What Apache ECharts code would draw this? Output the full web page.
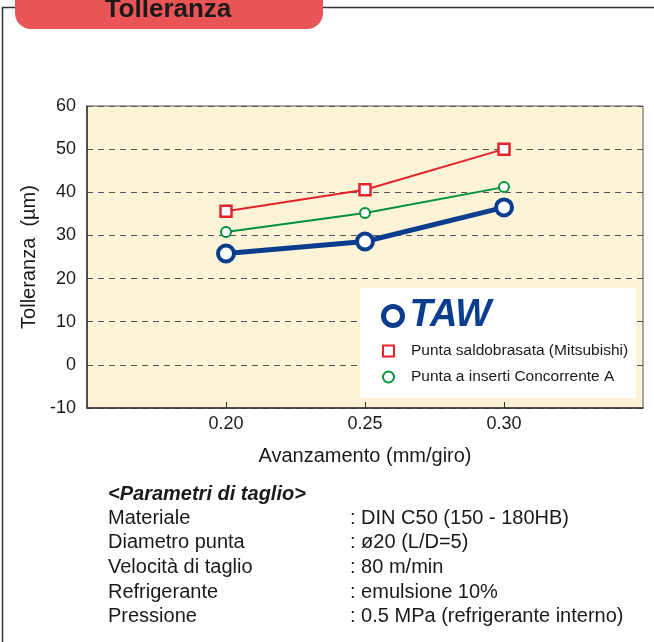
<!DOCTYPE html>
<html>
<head>
    <meta charset="utf-8">
    <title>Tolleranza</title>
    <script src="https://cdn.jsdelivr.net/npm/echarts@6/dist/echarts.min.js"></script>
    <style>
        html, body { margin: 0; padding: 0; background: #fff; }
        #main { width: 654px; height: 642px; }
    </style>
</head>
<body>
<div id="main"></div>
<script>
    // dati
    var avanzamento = [0.20, 0.25, 0.30];
    var taw = [25.8, 28.6, 36.5];
    var mitsubishi = [35.6, 40.6, 50.0];
    var concorrente = [30.8, 35.2, 41.2];
    var xTicks = [0.20, 0.25, 0.30];

    var paramLabels = ['Materiale', 'Diametro punta', 'Velocità di taglio', 'Refrigerante', 'Pressione'];
    var paramValues = [': DIN C50 (150 - 180HB)', ': ø20 (L/D=5)', ': 80 m/min', ': emulsione 10%', ': 0.5 MPa (refrigerante interno)'];

    var font = 'Liberation Sans, Arial, sans-serif';

    function pairs(xs, ys) {
        return xs.map(function (x, i) { return [x, ys[i]]; });
    }

    var chart = echarts.init(document.getElementById('main'));

    // testo dei parametri di taglio
    var paramGraphics = [{
        type: 'text', left: 108, top: 484, z: 10,
        style: { text: '<Parametri di taglio>', font: 'italic bold 20px ' + font, fill: '#1a1a1a' }
    }];
    paramLabels.forEach(function (lab, i) {
        paramGraphics.push({
            type: 'text', left: 108, top: 508 + i * 24.7, z: 10,
            style: { text: lab, font: '20px ' + font, fill: '#1a1a1a' }
        });
        paramGraphics.push({
            type: 'text', left: 350, top: 508 + i * 24.7, z: 10,
            style: { text: paramValues[i], font: '20px ' + font, fill: '#1a1a1a' }
        });
    });

    var option = {
        animation: false,
        backgroundColor: '#fff',
        grid: {
            left: 87, top: 106, width: 556, height: 302,
            show: true, backgroundColor: '#fdf3d7', borderColor: '#555', borderWidth: 1
        },
        xAxis: {
            type: 'value', min: 0.15, max: 0.35, interval: 0.05,
            name: 'Avanzamento (mm/giro)', nameLocation: 'middle', nameGap: 38,
            nameTextStyle: { fontFamily: font, fontSize: 20, color: '#1a1a1a' },
            axisLine: { show: true, onZero: false, lineStyle: { color: '#333', width: 1.5 } },
            axisTick: { show: true, inside: true, length: 6, customValues: xTicks, lineStyle: { color: '#333' } },
            axisLabel: {
                customValues: xTicks, margin: 7, fontFamily: font, fontSize: 18, color: '#1a1a1a',
                formatter: function (v) { return v.toFixed(2); }
            },
            splitLine: { show: false }
        },
        yAxis: {
            type: 'value', min: -10, max: 60, interval: 10,
            name: 'Tolleranza  (µm)', nameLocation: 'middle', nameGap: 48,
            nameTextStyle: { fontFamily: font, fontSize: 20, color: '#1a1a1a' },
            axisLine: { show: true, onZero: false, lineStyle: { color: '#333', width: 1.5 } },
            axisTick: { show: false },
            axisLabel: { margin: 11, fontFamily: font, fontSize: 18, color: '#1a1a1a' },
            splitLine: { show: true, lineStyle: { color: '#555', type: [6, 5], width: 1 } }
        },
        legend: [{
            data: ['TAW'], left: 381, top: 297, padding: 0,
            icon: 'circle', itemWidth: 19, itemHeight: 19, itemGap: 0,
            itemStyle: { color: '#fff', borderColor: '#0b3d8e', borderWidth: 5 },
            textStyle: { fontFamily: font, fontSize: 38, fontWeight: 'bold', fontStyle: 'italic', color: '#0b3d8e', padding: [0, 0, 0, 2] },
            selectedMode: false, z: 20
        }, {
            data: [{ name: 'Punta saldobrasata (Mitsubishi)', icon: 'rect' }, { name: 'Punta a inserti Concorrente A', icon: 'circle' }],
            orient: 'vertical', left: 382, top: 343, padding: 0,
            itemWidth: 11, itemHeight: 11, itemGap: 10,
            textStyle: { fontFamily: font, fontSize: 15.5, color: '#1a1a1a', padding: [0, 0, 0, 12] },
            selectedMode: false, z: 20
        }],
        graphic: [
            {
                type: 'polyline', z: 1,
                shape: { points: [[2.5, 642], [2.5, 7.5], [654, 7.5]] },
                style: { stroke: '#333', lineWidth: 1.5, fill: null }
            },
            {
                type: 'rect', z: 2,
                shape: { x: 15, y: -22, width: 308, height: 51, r: 16 },
                style: { fill: '#e95557' }
            },
            {
                type: 'text', z: 3, x: 168, y: 10,
                style: { text: 'Tolleranza', font: 'bold 26px ' + font, fill: '#1a1a1a', align: 'center', verticalAlign: 'middle' }
            },
            {
                type: 'rect', z: 5,
                shape: { x: 360, y: 288, width: 276, height: 110 },
                style: { fill: '#fff' }
            }
        ].concat(paramGraphics),
        series: [
            {
                name: 'TAW', type: 'line', data: pairs(avanzamento, taw), z: 4,
                symbol: 'circle', symbolSize: 16,
                lineStyle: { color: '#0b3d8e', width: 5 },
                itemStyle: { color: '#fff', borderColor: '#0b3d8e', borderWidth: 4 }
            },
            {
                name: 'Punta saldobrasata (Mitsubishi)', type: 'line', data: pairs(avanzamento, mitsubishi), z: 3,
                symbol: 'rect', symbolSize: 11,
                lineStyle: { color: '#e3242b', width: 2 },
                itemStyle: { color: '#fff', borderColor: '#e3242b', borderWidth: 2.5 }
            },
            {
                name: 'Punta a inserti Concorrente A', type: 'line', data: pairs(avanzamento, concorrente), z: 3,
                symbol: 'circle', symbolSize: 10,
                lineStyle: { color: '#00933c', width: 2 },
                itemStyle: { color: '#fff', borderColor: '#00933c', borderWidth: 2 }
            }
        ]
    };

    chart.setOption(option);
</script>
</body>
</html>
